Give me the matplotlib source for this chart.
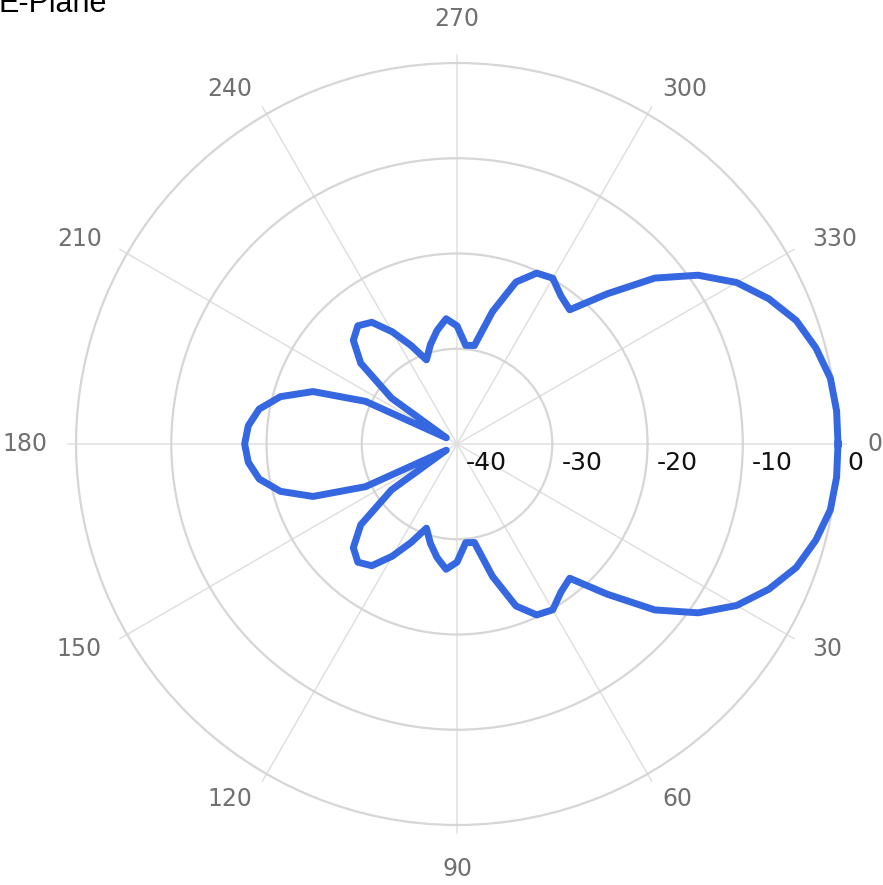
import numpy as np
import matplotlib.pyplot as plt

# E-plane pattern, angle in degrees (clockwise, 0 = right), gain in dB
angles = [0, 5, 10, 15, 20, 25, 30, 35, 40, 45, 50, 55, 60, 65, 70, 75, 80, 85,
          90, 95, 100, 105, 110, 115, 120, 125, 130, 135, 140, 145, 150, 155, 160, 165, 170, 175,
          180, 185, 190, 195, 200, 205, 210, 215, 220, 225, 230, 235, 240, 245, 250, 255, 260, 265,
          270, 275, 280, 285, 290, 295, 300, 305, 310, 315, 320, 325, 330, 335, 340, 345, 350, 355]
gain = [0.0, 0.0, -0.2, -1.0, -2.1, -3.9, -6.1, -9.1, -12.9, -17.7, -21.6, -21.0, -19.9, -20.2, -21.9, -25.6, -29.5, -29.6,
        -27.6, -26.8, -27.9, -29.2, -30.6, -28.6, -26.4, -24.4, -23.8, -24.6, -26.8, -31.6, -38.7, -29.4, -23.9, -20.8, -18.9, -18.0,
        -17.7, -18.0, -18.9, -20.8, -23.9, -29.4, -38.7, -31.6, -26.8, -24.6, -23.8, -24.4, -26.4, -28.6, -30.6, -29.2, -27.9, -26.8,
        -27.6, -29.6, -29.5, -25.6, -21.9, -20.2, -19.9, -21.0, -21.6, -17.7, -12.9, -9.1, -6.1, -3.9, -2.1, -1.0, -0.2, 0.0]

r_ticks = [-40, -30, -20, -10, 0]
theta_ticks = [0, 30, 60, 90, 120, 150, 180, 210, 240, 270, 300, 330]

grid_col = "#d6d6d6"

fig = plt.figure(figsize=(8.83, 8.85), dpi=100)
ax = fig.add_axes([0.0861, 0.0678, 0.863, 0.861], projection="polar")
ax.set_theta_zero_location("E")
ax.set_theta_direction(-1)
ax.set_rlim(-40, 0)

# circles
ax.set_yticks([-30, -20, -10])
ax.set_yticklabels([])
ax.yaxis.grid(True, color=grid_col, linewidth=1.6)
ax.set_xticks([])
ax.xaxis.grid(False)
ax.spines["polar"].set_color(grid_col)
ax.spines["polar"].set_linewidth(1.6)

# spokes with small outer ticks + angle labels
for t in theta_ticks:
    th = np.deg2rad(t)
    ax.plot([th, th], [-40, 0.85], color="#e0e0e0", linewidth=1.1, zorder=1, clip_on=False)
    c = np.cos(th)
    if t in (90, 270):
        ax.text(th, 4.6, str(t), ha="center", va="center", fontsize=17,
                color="#707070", clip_on=False)
    else:
        ha = "left" if c > 0 else "right"
        ax.text(th, 3.05, str(t), ha=ha, va="center", fontsize=17,
                color="#707070", clip_on=False)

# radial labels along 0 degree axis
for r in r_ticks:
    ax.annotate(str(r), xy=(0, r), xytext=(9, -19), textcoords="offset pixels",
                ha="left", va="center", fontsize=18, color="#111111",
                annotation_clip=False, zorder=4)

th = np.deg2rad(np.append(angles, angles[0]))
g = np.append(gain, gain[0])
ax.plot(th, g, color="#3467e0", linewidth=5, solid_joinstyle="round", zorder=3, clip_on=False)

fig.text(-0.002, 1 - 12 / 885, "E-Plane", fontsize=22, color="black",
         ha="left", va="baseline", family="Liberation Sans")

fig.savefig("out.png", dpi=100)
